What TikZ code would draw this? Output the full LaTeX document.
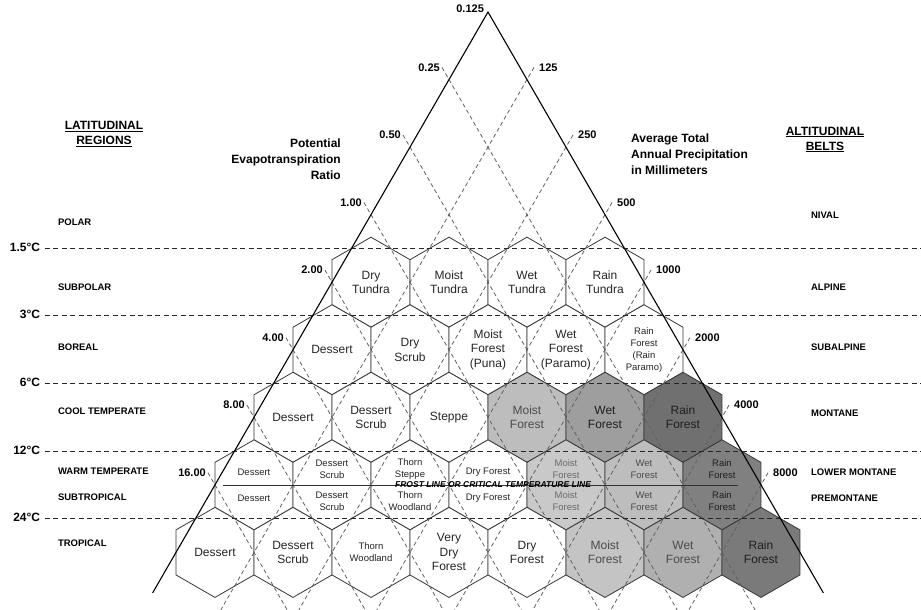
\documentclass[tikz,border=0pt]{standalone}
\usepackage{fontspec}
\setmainfont{Liberation Sans}
\usetikzlibrary{positioning}
\usetikzlibrary{calc}
\usetikzlibrary{shapes.geometric}
\definecolor{ink}{gray}{0.15}
\definecolor{inkmoist}{gray}{0.30}
\definecolor{inkpale}{gray}{0.42}
\definecolor{inkrain}{gray}{0.12}
\tikzset{
  zone/.style={regular polygon, regular polygon sides=6, shape border rotate=30,
    minimum size=90.07pt, inner sep=0pt, outer sep=0pt, draw=black!78, line width=0.8pt}
}

\begin{document}
\begin{tikzpicture}
    [x=39pt, y=39pt,
    main/.style={align=center, text=ink, font=\fontsize{12}{14.5}\selectfont},
    small/.style={align=center, text=ink, font=\fontsize{9.5}{12}\selectfont},
    guide/.style={black!62, line width=0.8pt, dash pattern=on 4pt off 3pt},
    isotherm/.style={black!85, line width=1pt, dash pattern=on 5pt off 3.5pt},
    frost/.style={black!80, line width=0.6pt},
    side/.style={black, line width=1.1pt},
    tick/.style={inner sep=0pt, font=\bfseries\fontsize{11}{13}\selectfont},
    belt/.style={anchor=west, inner sep=0pt, font=\bfseries\fontsize{9.5}{11}\selectfont},
    head/.style={align=center, inner sep=0pt, font=\bfseries\fontsize{12}{15}\selectfont},
    axis/.style={inner sep=0pt, font=\bfseries\fontsize{12}{16}\selectfont}]
    \useasboundingbox (-12.513,-15.333) rectangle (11.103,0.308);

    \foreach \n/\m/\gr in {4/-3/0, 4/-1/0, 4/1/0, 4/3/0,
        5/-4/0, 5/-2/0, 5/0/0, 5/2/0, 5/4/0,
        6/-5/0, 6/-3/0, 6/-1/0, 6/1/26, 6/3/38, 6/5/56,
        7/-6/0, 7/-4/0, 7/-2/0, 7/0/0, 7/2/21, 7/4/26, 7/6/50,
        8/-7/0, 8/-5/0, 8/-3/0, 8/-1/0, 8/1/0, 8/3/23, 8/5/31, 8/7/52}
        \node[zone, fill=black!\gr] (z\n\m) at (\m,{-1.7320508*\n}) {};

    \foreach \k/\ratio/\rain in {1/0.25/125, 2/0.50/250, 3/1.00/500, 4/2.00/1000,
        5/4.00/2000, 6/8.00/4000, 7/16.00/8000}{
        \coordinate (l\k) at (-\k,{-1.7320508*\k});
        \coordinate (r\k) at (\k,{-1.7320508*\k});
        \draw[guide] (l\k) +(120:0.36) -- +(-60:{(15.34-1.7320508*\k)/0.8660254});
        \draw[guide] (r\k) +(60:0.36) -- +(-120:{(15.34-1.7320508*\k)/0.8660254});
        \node[tick, anchor=east] (pet\k) at ([shift={(120:0.36)}, xshift=-2pt]l\k) {\ratio};
        \node[tick, anchor=west] (mm\k) at ([shift={(60:0.36)}, xshift=5pt]r\k) {\rain};
    }

    \foreach \n/\temp in {4/1.5, 5/3, 6/6, 7/12, 8/24}{
        \coordinate (w\n) at (-11.36,{-1.7320508*(\n-0.5)});
        \coordinate (e\n) at (11.11,{-1.7320508*(\n-0.5)});
        \draw[isotherm] (w\n) -- (e\n);
        \node[tick, font=\bfseries\fontsize{12}{14}\selectfont, anchor=east] (deg\n)
            at ([shift={(-0.12,0.03)}]w\n) {{\temp}°C};
    }

    \coordinate (frostw) at (-6.8,{-1.7320508*7});
    \coordinate (froste) at (6.4,{-1.7320508*7});
    \draw[frost] (frostw) -- (froste);

    \coordinate (apex) at (0,0);
    \coordinate (basew) at (-120:17.2);
    \coordinate (basee) at (-60:17.2);
    \draw[side] (basew) -- (apex) -- (basee);

    \foreach \n/\m/\tone/\lbl in {4/-3/ink/{Dry\\Tundra}, 4/-1/ink/{Moist\\Tundra},
        4/1/ink/{Wet\\Tundra}, 4/3/ink/{Rain\\Tundra},
        5/-4/ink/Dessert, 5/-2/ink/{Dry\\Scrub}, 5/0/ink/{Moist\\Forest\\(Puna)},
        5/2/ink/{Wet\\Forest\\(Paramo)},
        6/-5/ink/Dessert, 6/-3/ink/{Dessert\\Scrub}, 6/-1/ink/Steppe,
        6/1/inkmoist/{Moist\\Forest}, 6/3/inkrain/{Wet\\Forest}, 6/5/inkrain/{Rain\\Forest},
        8/-7/ink/Dessert, 8/-5/ink/{Dessert\\Scrub}, 8/-1/ink/{Very\\Dry\\Forest},
        8/1/ink/{Dry\\Forest}, 8/3/inkmoist/{Moist\\Forest}, 8/5/inkmoist/{Wet\\Forest},
        8/7/inkrain/{Rain\\Forest}}
        \node[main, text=\tone] (t\n\m) at (z\n\m) {\lbl};
    \node[small] (t54) at (z54) {Rain\\Forest\\(Rain\\Paramo)};
    \node[small] (t8-3) at (z8-3) {Thorn\\Woodland};

    \foreach \m/\tone/\off/\up/\low in {-6/ink/13/Dessert/Dessert,
        -4/ink/16/{Dessert\\Scrub}/{Dessert\\Scrub},
        -2/ink/16/{Thorn\\Steppe}/{Thorn\\Woodland}, 0/ink/13/Dry Forest/Dry Forest,
        2/inkpale/16/{Moist\\Forest}/{Moist\\Forest}, 4/inkmoist/16/{Wet\\Forest}/{Wet\\Forest},
        6/inkrain/16/{Rain\\Forest}/{Rain\\Forest}}{
        \node[small, text=\tone] (u\m) at ([yshift=\off pt]z7\m) {\up};
        \node[small, text=\tone] (d\m) at ([yshift=-\off pt]z7\m) {\low};
    }
    \node[font=\bfseries\itshape\fontsize{8.5}{10}\selectfont, inner sep=0pt] (frostlabel)
        at (0.13,{-1.7320508*7}) {FROST LINE OR CRITICAL TEMPERATURE LINE};

    \node[tick, anchor=east] (top) at (-0.1,0.08) {0.125};
    \node[head] (lat) at (-9.846,-3.128) {\underline{LATITUDINAL}\\\underline{REGIONS}};
    \node[head] (alt) at (8.641,-3.269) {\underline{ALTITUDINAL}\\\underline{BELTS}};
    \node[axis, align=right, anchor=east] (ratio) at (-3.769,-3.769)
        {Potential\\Evapotranspiration\\Ratio};
    \node[axis, align=left, anchor=west] (precip) at (3.667,-3.641)
        {Average Total\\Annual Precipitation\\in Millimeters};

    \foreach \y/\lbl [count=\i] in {-5.385/POLAR, -7.05/SUBPOLAR, -8.59/BOREAL,
        -10.23/COOL TEMPERATE, -11.77/WARM TEMPERATE, -12.44/SUBTROPICAL, -13.62/TROPICAL}
        \node[belt] (region\i) at (-11.03,\y) {\lbl};
    \foreach \y/\lbl [count=\i] in {-5.205/NIVAL, -7.05/ALPINE, -8.59/SUBALPINE,
        -10.28/MONTANE, -11.79/LOWER MONTANE, -12.46/PREMONTANE}
        \node[belt] (belt\i) at (8.28,\y) {\lbl};
\end{tikzpicture}
\end{document}
